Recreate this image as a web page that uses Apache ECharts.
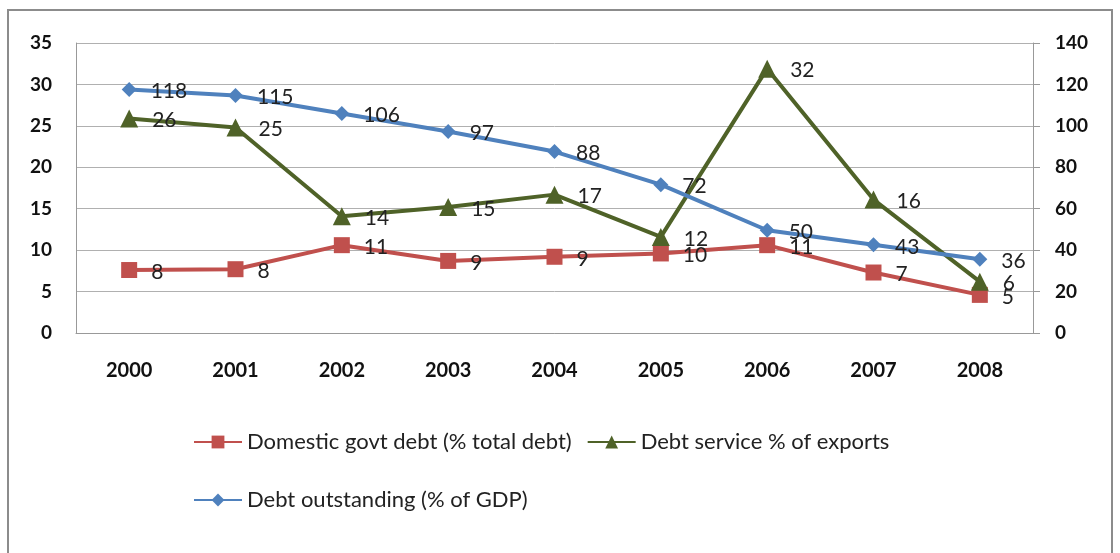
<!DOCTYPE html>
<html><head><meta charset="utf-8">
<script src="https://cdn.jsdelivr.net/npm/echarts@6/dist/echarts.min.js"></script>
<style>html,body{margin:0;padding:0;background:#fff}#c{width:1120px;height:553px}</style>
</head><body><div id="c"></div>
<script>
const years = ['2000','2001','2002','2003','2004','2005','2006','2007','2008'];
const domesticDebt = [7.6, 7.7, 10.6, 8.7, 9.2, 9.6, 10.6, 7.3, 4.6];
const debtService = [25.9, 24.8, 14.1, 15.2, 16.7, 11.6, 31.9, 16.1, 6.2];
const debtOutstanding = [117.6, 114.7, 106.0, 97.3, 87.6, 71.6, 49.6, 42.6, 35.6];
const leftTicks = {min:0, max:35, interval:5};
const rightTicks = {min:0, max:140, interval:20};

const font = 'Lato, "Open Sans", sans-serif';
const lbl = {show:true, position:'right', distance:14, offset:[0,2], color:'#222', fontFamily:font, fontSize:21,
  formatter: p => Math.round(p.value)};
const chart = echarts.init(document.getElementById('c'), null, {renderer:'canvas'});
chart.setOption({
  animation:false,
  backgroundColor:'#fff',
  graphic:[{type:'rect', shape:{x:8,y:10,width:1104,height:560}, style:{fill:'none', stroke:'#8c8c8c', lineWidth:2}, silent:true}],
  grid:{left:76, right:87, top:43, height:290},
  legend:[
    {left:188, top:426, itemWidth:48, itemHeight:16, itemGap:15, data:['Domestic govt debt (% total debt)','Debt service % of exports'],
     textStyle:{fontFamily:font, fontSize:22, color:'#222'}},
    {left:188, top:484, itemWidth:48, itemHeight:16, data:['Debt outstanding (% of GDP)'],
     textStyle:{fontFamily:font, fontSize:22, color:'#222'}}
  ],
  xAxis:{type:'category', data:years, boundaryGap:true,
    axisLine:{lineStyle:{color:'#999', width:1}}, axisTick:{show:false},
    axisLabel:{fontFamily:font, fontWeight:'bold', fontSize:20, color:'#111', margin:28}},
  yAxis:[
    {type:'value', min:leftTicks.min, max:leftTicks.max, interval:leftTicks.interval,
     axisLine:{show:true, lineStyle:{color:'#999'}}, axisTick:{show:false},
     splitLine:{lineStyle:{color:'#b0b0b0', width:1}},
     axisLabel:{fontFamily:font, fontWeight:'bold', fontSize:19, color:'#111', margin:24}},
    {type:'value', min:rightTicks.min, max:rightTicks.max, interval:rightTicks.interval,
     axisLine:{show:true, lineStyle:{color:'#999'}}, axisTick:{show:true, length:7, lineStyle:{color:'#999'}},
     splitLine:{show:false},
     axisLabel:{fontFamily:font, fontWeight:'bold', fontSize:19, color:'#111', margin:22}}
  ],
  series:[
    {name:'Domestic govt debt (% total debt)', type:'line', yAxisIndex:0, data:domesticDebt,
     symbol:'rect', symbolSize:16, lineStyle:{color:'#C0504D', width:4}, itemStyle:{color:'#C0504D'}, label:lbl},
    {name:'Debt service % of exports', type:'line', yAxisIndex:0, data:debtService,
     symbol:'triangle', symbolSize:18, lineStyle:{color:'#4F6228', width:4}, itemStyle:{color:'#4F6228'}, label:lbl},
    {name:'Debt outstanding (% of GDP)', type:'line', yAxisIndex:1, data:debtOutstanding,
     symbol:'diamond', symbolSize:15, lineStyle:{color:'#4F81BD', width:4}, itemStyle:{color:'#4F81BD'}, label:lbl}
  ]
});
</script></body></html>
